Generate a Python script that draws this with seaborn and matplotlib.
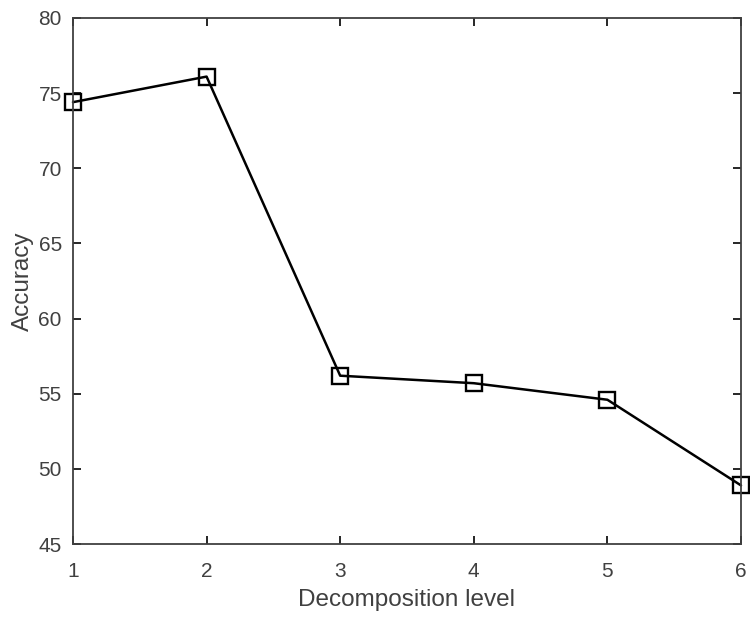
import matplotlib
matplotlib.use("Agg")
import matplotlib.pyplot as plt
import seaborn as sns
import pandas as pd

levels = [1, 2, 3, 4, 5, 6]
accuracy = [74.4, 76.1, 56.2, 55.7, 54.6, 48.9]
x_ticks = [1, 2, 3, 4, 5, 6]
y_ticks = [45, 50, 55, 60, 65, 70, 75, 80]

sns.set_theme(style="ticks")
plt.rcParams['font.family'] = ['Liberation Sans', 'DejaVu Sans']

df = pd.DataFrame({"level": levels, "acc": accuracy})

fig = plt.figure(figsize=(7.5, 6.18), dpi=100)
ax = fig.add_axes([0.0973, 0.1197, 0.8907, 0.8512])

sns.lineplot(data=df, x="level", y="acc", ax=ax, color="black", linewidth=1.8,
             marker="s", markersize=11.5, markerfacecolor="none",
             markeredgecolor="black", markeredgewidth=1.7, clip_on=False)

ax.set_xlim(1, 6)
ax.set_ylim(45, 80)
ax.set_xticks(x_ticks)
ax.set_yticks(y_ticks)
ax.set_xlabel("Decomposition level", fontsize=17.5, color="#404040", labelpad=6)
ax.set_ylabel("Accuracy", fontsize=17.5, color="#404040", labelpad=3)
ax.tick_params(axis="both", direction="in", length=6, width=1.4, labelsize=15,
               labelcolor="#404040", color="#262626",
               top=True, right=True)
ax.tick_params(axis="x", pad=13)
ax.tick_params(axis="y", pad=8)
for s in ax.spines.values():
    s.set_visible(True)
    s.set_color("#404040")
    s.set_linewidth(1.3)

fig.savefig("out.png", dpi=100)
